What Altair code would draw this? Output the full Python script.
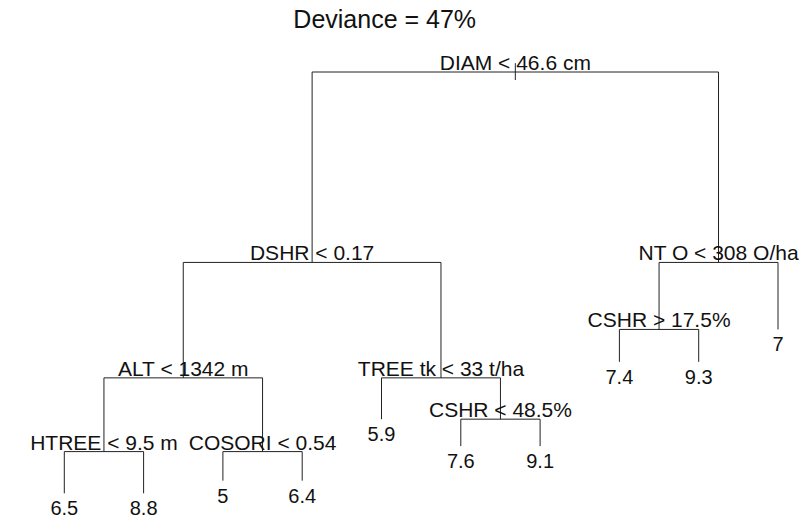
import altair as alt
import pandas as pd

# ---- data ----
split_labels = ["DIAM < 46.6 cm", "DSHR < 0.17", "ALT < 1342 m", "HTREE < 9.5 m",
                "COSORI < 0.54", "TREE tk < 33 t/ha", "CSHR < 48.5%",
                "NT O < 308 O/ha", "CSHR > 17.5%"]
# node height (share of deviance, root = 100)
split_dev = [100, 54.8, 27.4, 9.9, 9.9, 27.4, 17.6, 54.8, 38.9]
leaf_values = [6.5, 8.8, 5, 6.4, 5.9, 7.6, 9.1, 7.4, 9.3, 7]
leaf_dev = [0, 0, 3.0, 3.0, 17.6, 11.2, 11.2, 31.2, 31.2, 38.9]
# tree structure: split -> (left child, right child)
children = {
    "s0": ("s1", "s7"),
    "s1": ("s2", "s5"),
    "s2": ("s3", "s4"),
    "s3": ("l0", "l1"),
    "s4": ("l2", "l3"),
    "s5": ("l4", "s6"),
    "s6": ("l5", "l6"),
    "s7": ("s8", "l9"),
    "s8": ("l7", "l8"),
}
title_text = "Deviance = 47%"

# ---- layout (leaves at 1..n, splits at mean of children) ----
pos_x, pos_y = {}, {}
for i, d in enumerate(leaf_dev):
    pos_x[f"l{i}"] = i + 1
    pos_y[f"l{i}"] = d
for i, d in enumerate(split_dev):
    pos_y[f"s{i}"] = d


def get_x(n):
    if n not in pos_x:
        a, b = children[n]
        pos_x[n] = (get_x(a) + get_x(b)) / 2
    return pos_x[n]


get_x("s0")

segs = []
for p, (a, b) in children.items():
    # horizontal bar of the split
    segs.append(dict(x=pos_x[a], x2=pos_x[b], y=pos_y[p], y2=pos_y[p]))
    # verticals down to each child
    for c in (a, b):
        segs.append(dict(x=pos_x[c], x2=pos_x[c], y=pos_y[p], y2=pos_y[c]))
# root stub
segs.append(dict(x=pos_x["s0"], x2=pos_x["s0"], y=102.1, y2=98.1))
seg_df = pd.DataFrame(segs)

split_df = pd.DataFrame({
    "x": [pos_x[f"s{i}"] for i in range(len(split_labels))],
    "y": split_dev,
    "label": split_labels,
})
leaf_df = pd.DataFrame({
    "x": [pos_x[f"l{i}"] for i in range(len(leaf_values))],
    "y": leaf_dev,
    "label": [f"{v:g}" for v in leaf_values],
})

FONT = "Liberation Sans"
xs = alt.Scale(domain=[0.29, 10.29], nice=False, zero=False)
ys = alt.Scale(domain=[-3.25, 112.82], nice=False, zero=False)

lines = alt.Chart(seg_df).mark_rule(color="#222222", strokeWidth=1).encode(
    x=alt.X("x:Q", scale=xs, axis=None),
    x2="x2:Q",
    y=alt.Y("y:Q", scale=ys, axis=None),
    y2="y2:Q",
)

split_text = alt.Chart(split_df).mark_text(
    font=FONT, fontSize=21, color="#111111", baseline="alphabetic", dy=-2
).encode(
    x=alt.X("x:Q", scale=xs, axis=None),
    y=alt.Y("y:Q", scale=ys, axis=None),
    text="label:N",
)

leaf_text = alt.Chart(leaf_df).mark_text(
    font=FONT, fontSize=20, color="#111111", baseline="top", dy=6
).encode(
    x=alt.X("x:Q", scale=xs, axis=None),
    y=alt.Y("y:Q", scale=ys, axis=None),
    text="label:N",
)

title = alt.Chart(pd.DataFrame({"t": [title_text]})).mark_text(
    font=FONT, fontSize=25, color="#111111", baseline="alphabetic", align="center"
).encode(
    x=alt.value(376.7),
    y=alt.value(9.7),
    text="t:N",
)

chart = alt.layer(lines, split_text, leaf_text, title).properties(
    width=793, height=489,
    padding={"left": 0, "top": 10, "right": 0, "bottom": 8},
    background="white",
    autosize=alt.AutoSizeParams(type="none"),
).configure_view(stroke=None)

chart.save("out.html", embed_options={"renderer": "svg", "actions": False})
